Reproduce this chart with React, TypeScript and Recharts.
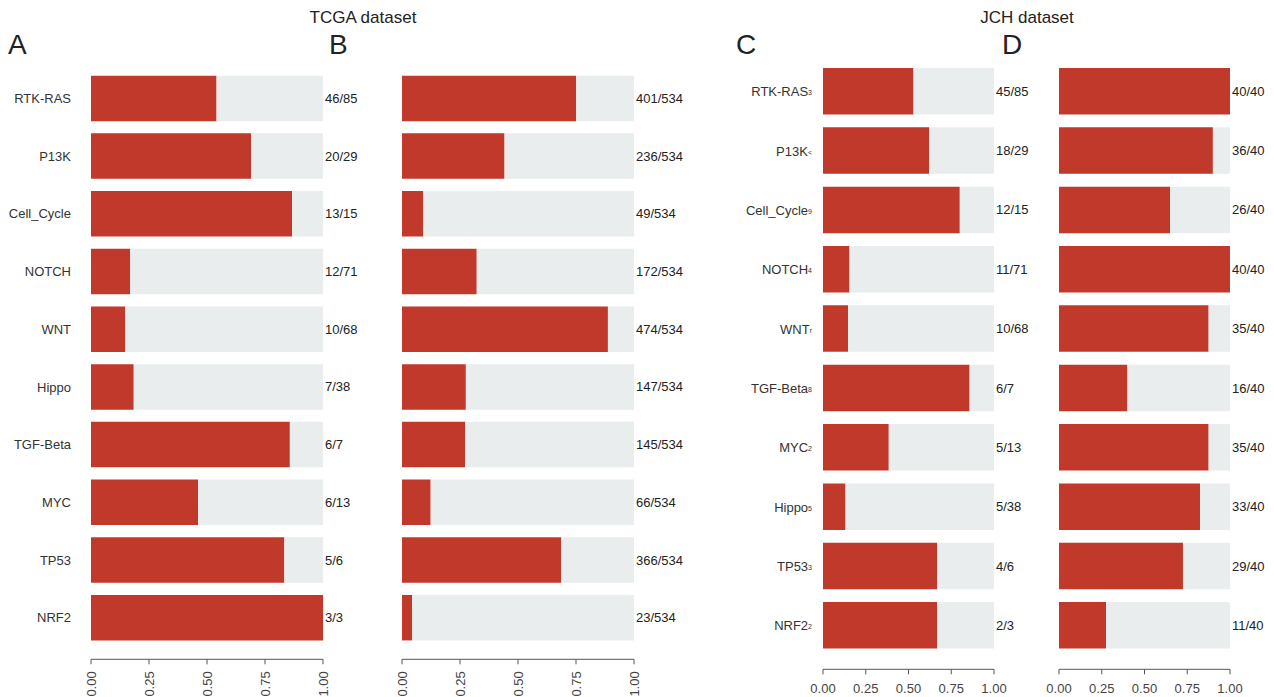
import { BarChart, Bar, XAxis, YAxis, LabelList } from "recharts";

const FONT = '"Liberation Sans", Arial, Helvetica, sans-serif';
const RED = "#c0392b";
const GREY = "#e9eded";
const TICKS = [0, 0.25, 0.5, 0.75, 1];
const EDGE = 20; // spare room left of each chart so the first tick label is not clipped

// TCGA dataset
const tcgaPathways = ["RTK-RAS", "P13K", "Cell_Cycle", "NOTCH", "WNT", "Hippo", "TGF-Beta", "MYC", "TP53", "NRF2"];
const tcgaGenesAltered = [46, 20, 13, 12, 10, 7, 6, 6, 5, 3];
const tcgaGenesTotal = [85, 29, 15, 71, 68, 38, 7, 13, 6, 3];
const tcgaSamplesAltered = [401, 236, 49, 172, 474, 147, 145, 66, 366, 23];
const tcgaSamplesTotal = [534, 534, 534, 534, 534, 534, 534, 534, 534, 534];

// JCH dataset
const jchPathways = ["RTK-RAS", "P13K", "Cell_Cycle", "NOTCH", "WNT", "TGF-Beta", "MYC", "Hippo", "TP53", "NRF2"];
const jchMarks = ["3", "<", "9", "4", "r", "8", "2", "5", "3", "2"];
const jchGenesAltered = [45, 18, 12, 11, 10, 6, 5, 5, 4, 2];
const jchGenesTotal = [85, 29, 15, 71, 68, 7, 13, 38, 6, 3];
const jchSamplesAltered = [40, 36, 26, 40, 35, 16, 35, 33, 29, 11];
const jchSamplesTotal = [40, 40, 40, 40, 40, 40, 40, 40, 40, 40];

type Row = { name: string; mark: string; value: number; rest: number; label: string };

function buildRows(names: string[], altered: number[], totals: number[], marks?: string[]): Row[] {
  return names.map((name, i) => {
    const frac = altered[i] / totals[i];
    return {
      name,
      mark: marks ? marks[i] : "",
      value: frac,
      rest: Math.max(0, 1 - frac),
      label: `${altered[i]}/${totals[i]}`,
    };
  });
}

interface PanelProps {
  rows: Row[];
  left: number;
  nameWidth: number;
  nameGap: number;
  plotWidth: number;
  rightSpace: number;
  top: number;
  axisHeight: number;
  padBottom: number;
  barSize: number;
  rotated: boolean;
}

function Panel({ rows, left, nameWidth, nameGap, plotWidth, rightSpace, top, axisHeight, padBottom, barSize, rotated }: PanelProps) {
  const plotEnd = EDGE + nameWidth + plotWidth;

  const renderName = (props: any) => {
    const { x, y, payload } = props;
    const row = rows[payload.index];
    return (
      <text x={x} y={y} dy="0.35em" textAnchor="end" fill="#333" fontSize={13} fontFamily={FONT}>
        {payload.value}
        {row && row.mark ? (
          <tspan fontSize={7} dy={-1}>
            {row.mark}
          </tspan>
        ) : null}
      </text>
    );
  };

  const renderTick = (props: any) => {
    const { x, y, payload } = props;
    const txt = Number(payload.value).toFixed(2);
    if (rotated) {
      return (
        <text
          x={x}
          y={y}
          dy="0.35em"
          transform={`rotate(-90 ${x} ${y})`}
          textAnchor="end"
          fill="#444"
          fontSize={13}
          fontFamily={FONT}
        >
          {txt}
        </text>
      );
    }
    return (
      <text x={x} y={y} dy="0.71em" textAnchor="middle" fill="#444" fontSize={13} fontFamily={FONT}>
        {txt}
      </text>
    );
  };

  // count label sits just past the end of the full-width track
  const renderCount = (props: any) => {
    const { y, height, value } = props;
    return (
      <text x={plotEnd + 2} y={Number(y) + Number(height) / 2} dy="0.35em" fill="#222" fontSize={13} fontFamily={FONT}>
        {value}
      </text>
    );
  };

  return (
    <div style={{ position: "absolute", left: left - EDGE, top: 0 }}>
      <BarChart
        width={EDGE + nameWidth + plotWidth + rightSpace}
        height={697}
        data={rows}
        layout="vertical"
        margin={{ top, right: rightSpace, bottom: 0, left: EDGE }}
        barSize={barSize}
      >
        <XAxis
          type="number"
          domain={[0, 1]}
          ticks={TICKS}
          allowDataOverflow
          height={axisHeight}
          tickSize={5}
          tickMargin={rotated ? 7 : 9}
          stroke="#555"
          tick={renderTick}
          interval={0}
        />
        <YAxis
          type="category"
          dataKey="name"
          width={nameWidth}
          hide={nameWidth === 0}
          axisLine={false}
          tickLine={false}
          tickSize={0}
          tickMargin={nameGap}
          padding={{ top: 0, bottom: padBottom }}
          tick={renderName}
          interval={0}
        />
        <Bar dataKey="value" stackId="a" fill={RED} isAnimationActive={false}>
          <LabelList dataKey="label" content={renderCount} />
        </Bar>
        <Bar dataKey="rest" stackId="a" fill={GREY} isAnimationActive={false} />
      </BarChart>
    </div>
  );
}

const letterStyle: React.CSSProperties = {
  position: "absolute",
  fontFamily: FONT,
  fontSize: 28,
  color: "#222",
  lineHeight: "28px",
};

const titleStyle: React.CSSProperties = {
  position: "absolute",
  fontFamily: FONT,
  fontSize: 17,
  color: "#222",
  lineHeight: "20px",
  transform: "translateX(-50%)",
  whiteSpace: "nowrap",
};

export default function App() {
  const tcgaGenes = buildRows(tcgaPathways, tcgaGenesAltered, tcgaGenesTotal);
  const tcgaSamples = buildRows(tcgaPathways, tcgaSamplesAltered, tcgaSamplesTotal);
  const jchGenes = buildRows(jchPathways, jchGenesAltered, jchGenesTotal, jchMarks);
  const jchSamples = buildRows(jchPathways, jchSamplesAltered, jchSamplesTotal);

  const tcgaLayout = { top: 69.65, axisHeight: 37.7, padBottom: 12.65, barSize: 45.5, rotated: true };
  const jchLayout = { top: 62, axisHeight: 27.7, padBottom: 13.9, barSize: 46.5, rotated: false };

  return (
    <div style={{ position: "absolute", left: 0, top: 0, width: 1274, height: 697, background: "#fff", overflow: "hidden" }}>
      <div style={{ ...titleStyle, left: 363, top: 8 }}>TCGA dataset</div>
      <div style={{ ...titleStyle, left: 1027, top: 8 }}>JCH dataset</div>
      <div style={{ ...letterStyle, left: 8, top: 31 }}>A</div>
      <div style={{ ...letterStyle, left: 329, top: 31 }}>B</div>
      <div style={{ ...letterStyle, left: 736, top: 31 }}>C</div>
      <div style={{ ...letterStyle, left: 1002, top: 31 }}>D</div>

      <Panel rows={tcgaGenes} left={0} nameWidth={91} nameGap={20} plotWidth={232} rightSpace={60} {...tcgaLayout} />
      <Panel rows={tcgaSamples} left={402} nameWidth={0} nameGap={0} plotWidth={232} rightSpace={60} {...tcgaLayout} />
      <Panel rows={jchGenes} left={732} nameWidth={91} nameGap={11} plotWidth={171} rightSpace={60} {...jchLayout} />
      <Panel rows={jchSamples} left={1059} nameWidth={0} nameGap={0} plotWidth={171} rightSpace={44} {...jchLayout} />
    </div>
  );
}
